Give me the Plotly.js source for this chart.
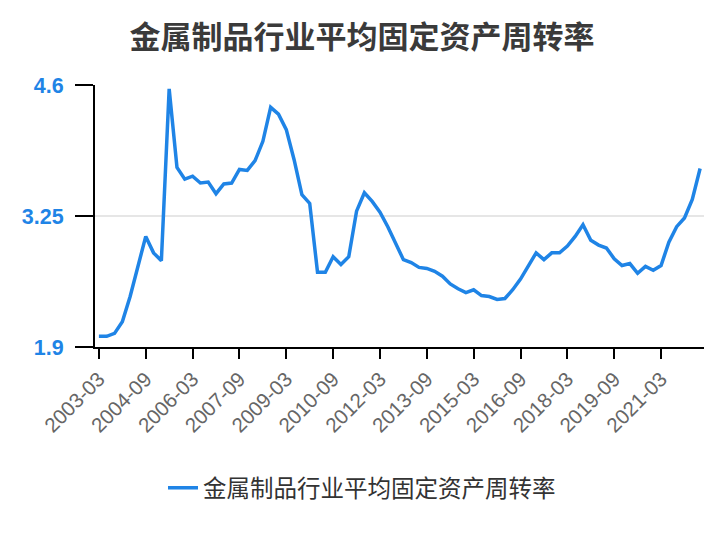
<!DOCTYPE html>
<html>
<head>
<meta charset="utf-8">
<script src="https://cdn.plot.ly/plotly-3.0.1.min.js"></script>
<style>
  html, body { margin: 0; padding: 0; background: #fff; }
  #chart { width: 724px; height: 540px; }
</style>
</head>
<body>
<div id="chart"></div>
<script>
const seriesName = "金属制品行业平均固定资产周转率";
const titleText = "金属制品行业平均固定资产周转率";

const quarters = [
  "2003-03","2003-06","2003-09","2003-12",
  "2004-03","2004-06","2004-09","2004-12",
  "2005-03","2005-06","2005-09","2005-12",
  "2006-03","2006-06","2006-09","2006-12",
  "2007-03","2007-06","2007-09","2007-12",
  "2008-03","2008-06","2008-09","2008-12",
  "2009-03","2009-06","2009-09","2009-12",
  "2010-03","2010-06","2010-09","2010-12",
  "2011-03","2011-06","2011-09","2011-12",
  "2012-03","2012-06","2012-09","2012-12",
  "2013-03","2013-06","2013-09","2013-12",
  "2014-03","2014-06","2014-09","2014-12",
  "2015-03","2015-06","2015-09","2015-12",
  "2016-03","2016-06","2016-09","2016-12",
  "2017-03","2017-06","2017-09","2017-12",
  "2018-03","2018-06","2018-09","2018-12",
  "2019-03","2019-06","2019-09","2019-12",
  "2020-03","2020-06","2020-09","2020-12",
  "2021-03","2021-06","2021-09","2021-12",
  "2022-03","2022-06"
];

const turnover = [
  2.01, 2.01, 2.04, 2.16,
  2.42, 2.74, 3.04, 2.87,
  2.79, 4.56, 3.75, 3.63,
  3.66, 3.59, 3.60, 3.48,
  3.58, 3.59, 3.73, 3.72,
  3.82, 4.02, 4.37, 4.30,
  4.14, 3.83, 3.47, 3.38,
  2.67, 2.67, 2.83, 2.75,
  2.83, 3.30, 3.49, 3.40,
  3.29, 3.14, 2.97, 2.80,
  2.77, 2.72, 2.71, 2.68,
  2.63, 2.55, 2.50, 2.46,
  2.49, 2.43, 2.42, 2.39,
  2.40, 2.49, 2.60, 2.73,
  2.87, 2.80, 2.87, 2.87,
  2.94, 3.04, 3.16, 3.00,
  2.95, 2.92, 2.81, 2.74,
  2.76, 2.66, 2.73, 2.69,
  2.74, 2.98, 3.14, 3.23,
  3.42, 3.74
];

const xTickLabels = ["2003-03","2004-09","2006-03","2007-09","2009-03","2010-09","2012-03","2013-09","2015-03","2016-09","2018-03","2019-09","2021-03"];
const yTickValues = [1.9, 3.25, 4.6];
const yTickLabels = ["1.9", "3.25", "4.6"];

const trace = {
  type: "scatter",
  mode: "lines",
  name: seriesName,
  x: quarters,
  y: turnover,
  line: { color: "#1f84e6", width: 3.5 }
};

const layout = {
  width: 724,
  height: 540,
  paper_bgcolor: "#ffffff",
  plot_bgcolor: "#ffffff",
  margin: { l: 95, r: 20, t: 85, b: 193, pad: 0 },
  font: { family: "Liberation Sans, Noto Sans CJK SC, sans-serif", color: "#333" },
  title: {
    text: titleText,
    font: { family: "Noto Sans CJK SC, sans-serif", size: 31, color: "#3a3a3a", weight: "bold" },
    xref: "container", x: 0.5, xanchor: "center",
    yref: "container", y: 1 - 37 / 540, yanchor: "middle"
  },
  showlegend: true,
  legend: {
    orientation: "h",
    xref: "container", x: 0.5, xanchor: "center",
    yref: "container", y: 1 - 488 / 540, yanchor: "middle",
    font: { family: "Noto Sans CJK SC, sans-serif", size: 23.5, color: "#333" }
  },
  xaxis: {
    type: "category",
    range: [-0.5, quarters.length - 0.5],
    tickmode: "array",
    tickvals: xTickLabels,
    ticktext: xTickLabels,
    tickangle: -45,
    ticks: "outside",
    ticklen: 10,
    tickwidth: 2,
    tickcolor: "#000",
    showline: true,
    linecolor: "#000",
    linewidth: 2,
    showgrid: false,
    zeroline: false,
    tickfont: { family: "Liberation Sans, sans-serif", size: 20.5, color: "#666" }
  },
  yaxis: {
    range: [1.9, 4.6],
    tickmode: "array",
    tickvals: yTickValues,
    ticktext: yTickLabels,
    ticks: "outside",
    ticklen: 18,
    tickwidth: 2,
    tickcolor: "#000",
    ticklabelstandoff: 7,
    showline: true,
    linecolor: "#000",
    linewidth: 2,
    showgrid: true,
    gridcolor: "#e6e6e6",
    gridwidth: 2,
    zeroline: false,
    tickfont: { family: "Liberation Sans, sans-serif", size: 21.5, color: "#1f84e6", weight: "bold" }
  }
};

Plotly.newPlot("chart", [trace], layout, { displayModeBar: false, staticPlot: true });
</script>
</body>
</html>
